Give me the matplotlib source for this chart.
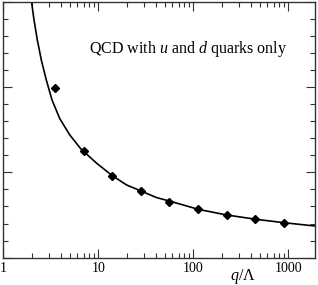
import matplotlib
matplotlib.use("Agg")
import matplotlib.pyplot as plt
from matplotlib.ticker import LogLocator, MultipleLocator, NullFormatter, FixedLocator, FixedFormatter

plt.rcParams['font.family'] = ['Liberation Serif', 'DejaVu Serif']
plt.rcParams['mathtext.fontset'] = 'custom'
plt.rcParams['mathtext.rm'] = 'Liberation Serif'
plt.rcParams['mathtext.it'] = 'Liberation Serif:italic'

# data points (diamonds)
q_pts = [3.5, 7, 14, 28, 56, 112, 224, 448, 896]
y_pts = [1.987, 1.253, 0.957, 0.778, 0.656, 0.567, 0.500, 0.450, 0.410]

# theory curve
q_curve = [1.963, 2.096, 2.271, 2.502, 2.825, 3.244, 3.910, 4.985, 6.511, 7.05,
           9.60, 14.01, 19.87, 28.11, 41.15, 55.87, 112.1, 224.9, 454.4, 896.8, 1916]
y_curve = [3.017, 2.784, 2.550, 2.315, 2.081, 1.847, 1.630, 1.438, 1.276, 1.241,
           1.105, 0.960, 0.851, 0.781, 0.703, 0.664, 0.567, 0.500, 0.450, 0.410, 0.371]

x_ticks = [1, 10, 100, 1000]
x_ticklabels = ['1', '10', '100', '1000']

fig = plt.figure(figsize=(3.18, 2.85), dpi=100)
ax = fig.add_axes([0.011, 0.0958, 0.9795, 0.8989])

ax.plot(q_curve, y_curve, color='black', lw=1.2, solid_joinstyle='round')
ax.plot(q_pts, y_pts, linestyle='none', marker='D', markersize=3.6, color='black')

ax.set_xscale('log')
ax.set_xlim(1, 1910)
ax.set_ylim(0, 3)

ax.xaxis.set_major_locator(FixedLocator(x_ticks))
ax.xaxis.set_major_formatter(FixedFormatter(x_ticklabels))
ax.xaxis.set_minor_locator(LogLocator(base=10, subs=range(2, 10), numticks=20))
ax.xaxis.set_minor_formatter(NullFormatter())
ax.yaxis.set_major_locator(MultipleLocator(1))
ax.yaxis.set_minor_locator(MultipleLocator(0.2))
ax.set_yticklabels([])

ax.tick_params(which='both', direction='in', top=True, right=True, width=0.8, color='#333333')
ax.tick_params(which='major', length=6.5, labelsize=10, pad=3)
ax.tick_params(which='minor', length=3.6)
for s in ax.spines.values():
    s.set_linewidth(1.0)
    s.set_color('#333333')

ax.text(0.274, 0.80, r'QCD with $u$ and $d$ quarks only', transform=ax.transAxes,
        fontsize=11.5, ha='left', va='baseline')
fig.text(243 / 318, 1 - 277 / 285, r'$q/\Lambda$', fontsize=11.5, ha='center', va='center')

fig.savefig('out.png', dpi=100)
